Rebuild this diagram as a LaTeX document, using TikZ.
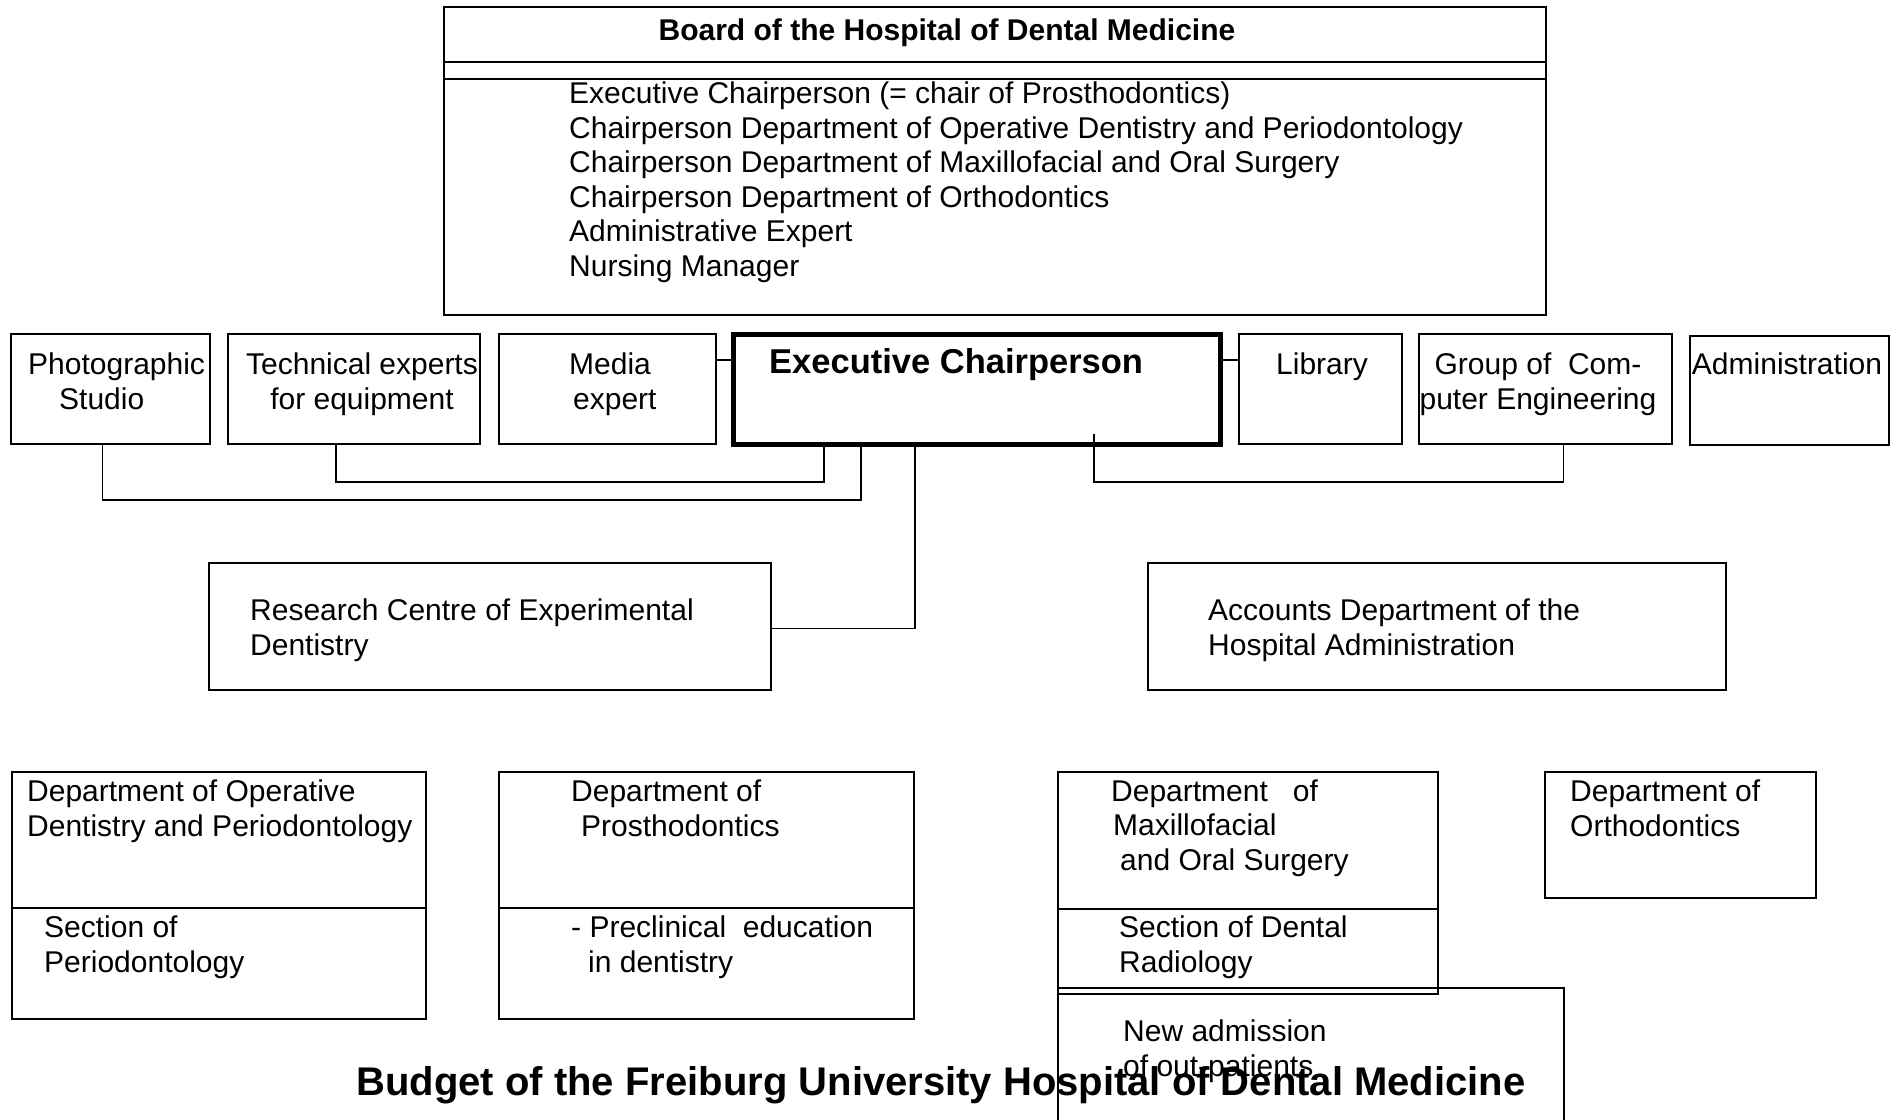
\documentclass[tikz,border=0pt]{standalone}
\usepackage{fontspec}
\setmainfont{Liberation Sans}
\tikzset{
  box/.style={draw, line width=1.4pt, anchor=north west, inner sep=0pt, outer sep=0pt},
  txt/.style={anchor=base west, align=left, inner sep=0pt},
  ctxt/.style={anchor=base, align=center, inner sep=0pt},
  link/.style={line width=1.4pt}
}
\begin{document}
\begin{tikzpicture}[x=1pt,y=-1pt,font=\fontsize{30}{34.5}\selectfont]
            \clip (0,0) rectangle (1898,1119);
            % board
            \node[box, minimum width=1102pt, minimum height=308pt] (board) at (444,7) {};
            \draw[link] ([yshift=-55pt]board.north west) -- ([yshift=-55pt]board.north east);
            \draw[link] ([yshift=-72pt]board.north west) -- ([yshift=-72pt]board.north east);
            \node[ctxt, font=\fontsize{30}{34.5}\selectfont\bfseries] (boardtitle) at (947,40) {Board of the Hospital of Dental Medicine};
            \node[txt] (boardlist) at (569,276) {Executive Chairperson (= chair of Prosthodontics)\\
              Chairperson Department of Operative Dentistry and Periodontology\\
              Chairperson Department of Maxillofacial and Oral Surgery\\
              Chairperson Department of Orthodontics\\
              Administrative Expert\\
              Nursing Manager};
            % staff row
            \node[box, minimum width=199pt, minimum height=110pt] (photo) at (11,334) {};
            \node[box, minimum width=252pt, minimum height=110pt] (tech) at (228,334) {};
            \node[box, minimum width=217pt, minimum height=110pt] (media) at (499,334) {};
            \node[box, line width=5pt, minimum width=487pt, minimum height=110pt] (exec) at (733,334) {};
            \node[box, minimum width=163pt, minimum height=110pt] (library) at (1239,334) {};
            \node[box, minimum width=253pt, minimum height=110pt] (group) at (1419,334) {};
            \node[box, minimum width=199pt, minimum height=109pt] (admin) at (1690,336) {};
            \node[txt] (phototxt) at (28,409) {Photographic\\\hspace*{31pt}Studio};
            \node[ctxt] (techtxt) at (362,409) {Technical experts\\for equipment};
            \node[txt] (mediatxt) at (569,409) {Media\\\hspace*{4pt}expert};
            \node[txt, font=\fontsize{34.5}{40}\selectfont\bfseries] (exectxt) at (769,373) {Executive Chairperson};
            \node[ctxt] (librarytxt) at (1322,374) {Library};
            \node[ctxt] (grouptxt) at (1538,409) {Group of\ \ Com-\\puter Engineering};
            \node[ctxt] (admintxt) at (1787,374) {Administration};
            \draw[link] ([yshift=29pt]media.east) -- ([yshift=29pt]exec.west);
            \draw[link] ([yshift=29pt]exec.east) -- ([yshift=29pt]library.west);
            \draw[link] ([xshift=-8pt]photo.south) -- ++(0,-56pt) -| ([xshift=128pt]exec.south west);
            \draw[link] ([xshift=-18pt]tech.south) -- ++(0,-38pt) -| ([xshift=91pt]exec.south west);
            \draw[link] ([xshift=18pt]group.south) -- ++(0,-38pt) -| ([xshift=361pt,yshift=10pt]exec.south west);
            % middle row
            \node[box, minimum width=562pt, minimum height=127pt] (research) at (209,563) {};
            \node[box, minimum width=578pt, minimum height=127pt] (accounts) at (1148,563) {};
            \node[txt] (researchtxt) at (250,655) {Research Centre of Experimental\\Dentistry};
            \node[txt] (accountstxt) at (1208,655) {Accounts Department of the\\Hospital Administration};
            \draw[link] ([xshift=182pt]exec.south west) |- ([yshift=-2pt]research.east);
            % departments
            \node[box, minimum width=414pt, minimum height=247pt] (oper) at (12,772) {};
            \node[box, minimum width=415pt, minimum height=247pt] (prosth) at (499,772) {};
            \node[box, minimum width=380pt, minimum height=222pt] (maxillo) at (1058,772) {};
            \node[box, minimum width=506pt, minimum height=200pt] (newadm) at (1058,988) {};
            \node[box, minimum width=271pt, minimum height=126pt] (ortho) at (1545,772) {};
            \draw[link] ([yshift=-136pt]oper.north west) -- ([yshift=-136pt]oper.north east);
            \draw[link] ([yshift=-136pt]prosth.north west) -- ([yshift=-136pt]prosth.north east);
            \draw[link] ([yshift=-137pt]maxillo.north west) -- ([yshift=-137pt]maxillo.north east);
            \node[txt] (opertxt) at (27,836) {Department of Operative\\Dentistry and Periodontology};
            \node[txt] (opersec) at (44,972) {Section of\\Periodontology};
            \node[txt] (prosthtxt) at (571,836) {Department of\\\hspace*{10pt}Prosthodontics};
            \node[txt] (prosthsec) at (571,972) {- Preclinical\ \ education\\\hspace*{17pt}in dentistry};
            \node[txt] (maxillotxt) at (1111,870) {Department\ \ \ of\\\hspace*{2pt}Maxillofacial\\\hspace*{9pt}and Oral Surgery};
            \node[txt] (maxillosec) at (1119,972) {Section of Dental\\Radiology};
            \node[txt] (newadmtxt) at (1123,1076) {New admission\\of out-patients};
            \node[txt] (orthotxt) at (1570,836) {Department of\\Orthodontics};
            \node[ctxt, font=\fontsize{40}{46}\selectfont\bfseries] (budget) at (941,1095) {Budget of the Freiburg University Hospital of Dental Medicine};
          \end{tikzpicture}
\end{document}
